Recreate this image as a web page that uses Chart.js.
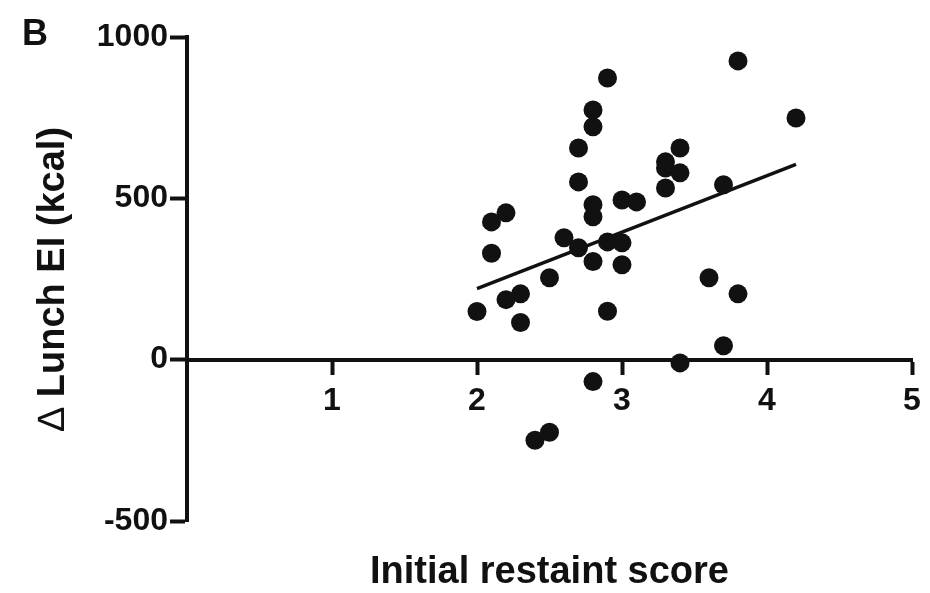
<!DOCTYPE html>
<html lang="en">
<head>
<meta charset="UTF-8">
<title>Initial restraint score vs lunch EI</title>
<style>
  html, body { margin: 0; padding: 0; background: #fff; }
  .wrap { position: relative; width: 930px; height: 593px; }
</style>
<script src="https://cdn.jsdelivr.net/npm/chart.js"></script>
</head>
<body>
<div class="wrap"><canvas id="chart"></canvas></div>
<script>
// one point per participant
const restraintScore = [2.0, 2.1, 2.1, 2.2, 2.2, 2.3, 2.3, 2.5, 2.4, 2.5,
  2.6, 2.7, 2.7, 2.7, 2.8, 2.8, 2.8, 2.8, 2.8, 2.8,
  2.9, 2.9, 2.9, 3.0, 3.0, 3.0, 3.1, 3.3, 3.3, 3.3,
  3.4, 3.4, 3.4, 3.6, 3.7, 3.7, 3.8, 3.8, 4.2];
const lunchEI = [149, 427, 330, 455, 186, 204, 115, 254, -250, -225,
  378, 347, 656, 551, 774, 722, 480, 443, 304, -68,
  873, 365, 150, 362, 294, 495, 489, 613, 594, 532,
  656, 579, -10, 254, 542, 43, 926, 204, 749];

// regression line end points
const fitX = [2.0, 4.2];
const fitY = [220, 605];

const xTicks = [1, 2, 3, 4, 5];
const yTicks = [-500, 0, 500, 1000];

const FONT = '"Liberation Sans", Arial, sans-serif';
const INK = '#111';

// panel letter and the y title (thin delta + bold text)
const extraText = {
  id: 'extraText',
  afterDraw(chart) {
    const c = chart.ctx;
    const area = chart.chartArea;
    c.save();
    c.fillStyle = INK;
    c.font = 'bold 36px ' + FONT;
    c.textBaseline = 'top';
    c.fillText('B', 22, 17);

    const delta = '\u2206';
    const rest = ' Lunch EI (kcal)';
    const thin = '38px ' + FONT;
    const bold = 'bold 38px ' + FONT;
    c.font = thin;
    const w1 = c.measureText(delta).width;
    c.font = bold;
    const w2 = c.measureText(rest).width;
    c.translate(64, (area.top + area.bottom) / 2);
    c.rotate(-Math.PI / 2);
    c.textBaseline = 'alphabetic';
    c.textAlign = 'left';
    const start = -(w1 + w2) / 2;
    c.font = thin;
    c.fillText(delta, start, 0);
    c.font = bold;
    c.fillText(rest, start + w1, 0);
    c.restore();
  }
};

new Chart(document.getElementById('chart'), {
  type: 'scatter',
  data: {
    datasets: [{
      data: restraintScore.map((x, i) => ({ x: x, y: lunchEI[i] })),
      backgroundColor: INK,
      borderWidth: 0,
      pointRadius: 9.5,
      pointHoverRadius: 9.5
    }, {
      type: 'line',
      data: fitX.map((x, i) => ({ x: x, y: fitY[i] })),
      borderColor: INK,
      borderWidth: 3.5,
      pointRadius: 0,
      fill: false
    }]
  },
  options: {
    responsive: true,
    maintainAspectRatio: false,
    animation: false,
    layout: { padding: { left: 0, top: 37, right: 18, bottom: 0 } },
    plugins: {
      legend: { display: false },
      tooltip: { enabled: false }
    },
    scales: {
      x: {
        type: 'linear',
        position: { y: 0 },
        min: 0,
        max: 5,
        afterBuildTicks: axis => { axis.ticks = xTicks.map(v => ({ value: v })); },
        ticks: { color: INK, font: { family: FONT, size: 32, weight: 'bold' }, padding: 9, maxRotation: 0 },
        grid: { drawOnChartArea: false, tickLength: 13, tickWidth: 4, color: INK },
        border: { color: INK, width: 4 }
      },
      x2: {
        type: 'linear',
        position: 'bottom',
        min: 0,
        max: 5,
        ticks: { display: false },
        grid: { display: false },
        border: { display: false },
        title: {
          display: true,
          text: 'Initial restaint score',
          color: INK,
          font: { family: FONT, size: 38, weight: 'bold' },
          padding: { top: 0, bottom: -2 }
        },
        afterFit: s => { s.height = 72; }
      },
      y: {
        type: 'linear',
        position: 'left',
        min: -500,
        max: 1000,
        afterBuildTicks: axis => { axis.ticks = yTicks.map(v => ({ value: v })); },
        ticks: {
          color: INK,
          font: { family: FONT, size: 32, weight: 'bold' },
          padding: 2,
          callback: v => String(v)
        },
        grid: { drawOnChartArea: false, tickLength: 17, tickWidth: 4, color: INK },
        border: { color: INK, width: 4 },
        afterFit: s => { s.width = 187; }
      }
    }
  },
  plugins: [extraText]
});
</script>
</body>
</html>
